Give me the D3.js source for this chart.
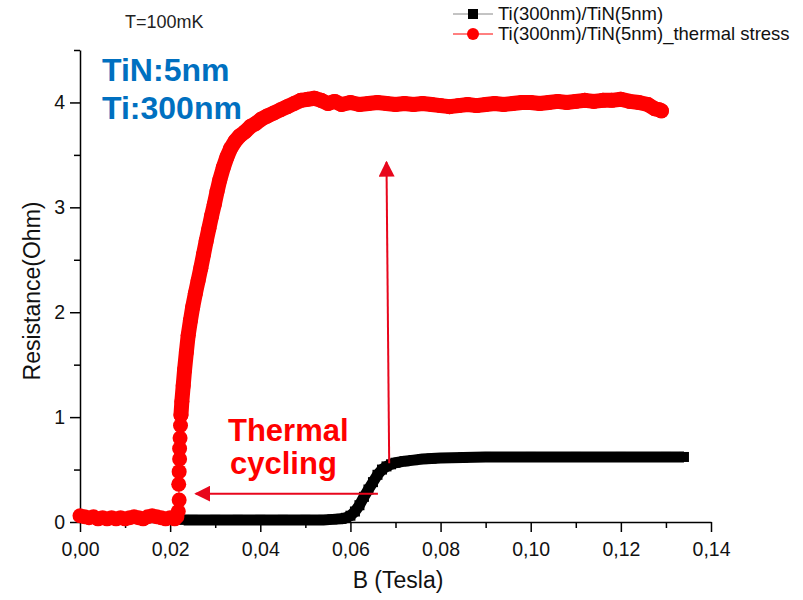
<!DOCTYPE html>
<html>
<head>
<meta charset="utf-8">
<script src="https://cdn.jsdelivr.net/npm/d3@7"></script>
<style>
body{margin:0;background:#fff;}
svg{font-family:"Liberation Sans",Arial,sans-serif;}
.axis path,.axis line{stroke:#000;stroke-width:1.5;}
.axis text{font-size:19.5px;fill:#111;}
</style>
</head>
<body>
<svg id="chart" width="803" height="600"></svg>
<script>
var svgWidth=803;
var svgHeight=600;

// B (Tesla), R (Ohm)
var redB=[0.000,0.001,0.002,0.003,0.004,0.005,0.006,0.007,0.008,0.009,0.010,0.011,0.012,0.013,0.014,0.015,0.016,0.017,0.018,0.019,0.020,0.021,0.0215,
  0.0218,0.0220,0.0219,0.0220,0.0221,0.0221,0.0222,0.0223,0.0224,0.0226,0.0229,0.0232,0.0236,0.0240,0.0245,0.0250,0.0256,0.0262,0.0268,0.0274,0.0280,0.0286,0.0292,0.0298,0.0304,0.0310,0.0318,0.0326,0.0334,0.0344,0.0354,0.0366,0.0378,0.0390,0.0402,0.0415,0.0430,0.0445,0.0460,0.0475,0.0490,0.0505,0.0520,0.0535,0.0550,0.0565,0.0580,
  0.0600,0.0620,0.0640,0.0660,0.0680,0.0700,0.0720,0.0740,0.0760,0.0780,0.0800,0.0820,0.0840,0.0860,0.0880,0.0900,0.0920,0.0940,0.0960,0.0980,0.1000,0.1020,0.1040,0.1060,0.1080,0.1100,0.1120,0.1140,0.1160,0.1180,0.1200,0.1220,0.1240,0.1260,0.1275,0.1285,0.1290];
var redR=[0.06,0.05,0.04,0.05,0.03,0.04,0.03,0.04,0.03,0.04,0.03,0.04,0.05,0.04,0.03,0.05,0.06,0.05,0.04,0.03,0.04,0.03,0.05,
  0.10,0.21,0.36,0.48,0.60,0.70,0.80,0.92,1.02,1.15,1.30,1.45,1.62,1.78,1.92,2.05,2.18,2.30,2.42,2.55,2.68,2.80,2.92,3.03,3.15,3.26,3.38,3.48,3.56,3.63,3.68,3.72,3.77,3.80,3.84,3.87,3.90,3.93,3.96,3.99,4.02,4.03,4.04,4.02,3.99,4.01,3.98,
  4.00,3.98,3.99,4.00,3.99,3.98,3.99,3.98,3.99,3.98,3.97,3.96,3.97,3.98,3.97,3.98,3.99,3.98,3.99,4.00,4.00,3.99,4.00,4.01,4.00,4.01,4.02,4.01,4.02,4.02,4.03,4.01,4.00,3.98,3.94,3.93,3.92];

var blackB=[0.023,0.025,0.030,0.035,0.040,0.045,0.050,0.054,0.056,0.058,0.059,0.060,0.061,0.062,0.063,0.064,0.065,0.066,0.067,0.068,0.069,0.070,0.072,0.074,0.076,0.078,0.080,0.085,0.090,0.100,0.110,0.120,0.130,0.134];
var blackR=[0.02,0.02,0.02,0.02,0.02,0.02,0.02,0.02,0.025,0.03,0.04,0.06,0.10,0.16,0.24,0.31,0.38,0.45,0.50,0.53,0.55,0.565,0.58,0.59,0.60,0.605,0.61,0.615,0.62,0.62,0.62,0.62,0.62,0.62];

var xTicks=[0,0.02,0.04,0.06,0.08,0.10,0.12,0.14];
var xMinor=[0.01,0.03,0.05,0.07,0.09,0.11,0.13];
var yTicks=[0,1,2,3,4];
var yMinor=[0.5,1.5,2.5,3.5,4.5];

var seriesNames=["Ti(300nm)/TiN(5nm)","Ti(300nm)/TiN(5nm)_thermal stress"];
// arrows: [B start, R start, B end, R end]
var arrowDown=[0.0661,0.27,0.0257,0.27];
var arrowUp=[0.0686,0.56,0.0680,3.43];

var svg=d3.select("#chart");

var xScale=d3.scaleLinear().domain([0,0.14]).range([80,711]);
var yScale=d3.scaleLinear().domain([0,4.5]).range([522,50]);

var fmt=function(d){return d3.format(".2f")(d).replace(".",",");};

// minor ticks
svg.append("g").attr("class","axis")
  .attr("transform","translate(0,522)")
  .call(d3.axisBottom(xScale).tickValues(xMinor).tickSize(6).tickFormat(""))
  .select(".domain").remove();
svg.append("g").attr("class","axis")
  .attr("transform","translate(80,0)")
  .call(d3.axisLeft(yScale).tickValues(yMinor).tickSize(6).tickFormat(""))
  .select(".domain").remove();

var xAxis=svg.append("g").attr("class","axis")
  .attr("transform","translate(0,522)")
  .call(d3.axisBottom(xScale).tickValues(xTicks).tickSize(10).tickSizeOuter(0).tickPadding(10).tickFormat(fmt));
var yAxis=svg.append("g").attr("class","axis")
  .attr("transform","translate(80,0)")
  .call(d3.axisLeft(yScale).tickValues(yTicks).tickSize(10).tickSizeOuter(0).tickPadding(5).tickFormat(d3.format("d")));
yAxis.selectAll("text").attr("font-size",20);

// axis titles
svg.append("text").attr("x",398).attr("y",588).attr("text-anchor","middle")
  .attr("font-size",23).attr("fill","#111").text("B (Tesla)");
svg.append("text").attr("transform","translate(40,291) rotate(-90)").attr("text-anchor","middle")
  .attr("font-size",23).attr("fill","#111").text("Resistance(Ohm)");

var line=d3.line().x(function(d){return xScale(d[0]);}).y(function(d){return yScale(d[1]);});

// black series
var blackData=blackB.map(function(d,i){return [d,blackR[i]];});
svg.append("path").datum(blackData).attr("d",line)
  .attr("fill","none").attr("stroke","#000").attr("stroke-width",11).attr("stroke-linejoin","round");
svg.selectAll(".sq").data(blackData).enter().append("rect")
  .attr("class","sq").attr("width",10).attr("height",10)
  .attr("x",function(d){return xScale(d[0])-5;})
  .attr("y",function(d){return yScale(d[1])-5;})
  .attr("fill","#000");

// red series: dense parts look like a solid band, the jump at 0.022 shows single dots
var redData=redB.map(function(d,i){return [d,redR[i]];});
var redLow=redData.filter(function(d){return d[0]<=0.0215;});
var redHigh=redData.filter(function(d){return d[0]>=0.0224;});
svg.append("path").datum(redData).attr("d",line)
  .attr("fill","none").attr("stroke","#ff0000").attr("stroke-width",1);
[redLow,redHigh].forEach(function(seg,i){
  svg.append("path").datum(seg).attr("d",line)
    .attr("fill","none").attr("stroke","#ff0000").attr("stroke-width",i==0?12:15)
    .attr("stroke-linejoin","round").attr("stroke-linecap","round");
});
svg.selectAll(".dot").data(redData).enter().append("circle")
  .attr("class","dot").attr("r",7.5)
  .attr("cx",function(d){return xScale(d[0]);})
  .attr("cy",function(d){return yScale(d[1]);})
  .attr("fill","#ff0000");

// arrows
var arrowColor="#e8061c";
var defs=svg.append("defs");
defs.append("marker").attr("id","head").attr("viewBox","0 0 10 10")
  .attr("refX",9).attr("refY",5).attr("markerWidth",16).attr("markerHeight",16)
  .attr("markerUnits","userSpaceOnUse").attr("orient","auto")
  .append("path").attr("d","M0,0L10,5L0,10Z").attr("fill",arrowColor);
[arrowDown,arrowUp].forEach(function(a){
  svg.append("line")
    .attr("x1",xScale(a[0])).attr("y1",yScale(a[1]))
    .attr("x2",xScale(a[2])).attr("y2",yScale(a[3]))
    .attr("stroke",arrowColor).attr("stroke-width",2)
    .attr("marker-end","url(#head)");
});

// annotations
svg.append("text").attr("x",125).attr("y",28).attr("font-size",18).attr("fill","#222").text("T=100mK");
svg.append("text").attr("x",102).attr("y",81).attr("font-size",32).attr("font-weight","bold").attr("fill","#0070c0").text("TiN:5nm");
svg.append("text").attr("x",102).attr("y",119).attr("font-size",32).attr("font-weight","bold").attr("fill","#0070c0").text("Ti:300nm");
svg.append("text").attr("x",228).attr("y",441).attr("font-size",31).attr("font-weight","bold").attr("fill","#ff0000").text("Thermal");
svg.append("text").attr("x",230).attr("y",474).attr("font-size",31).attr("font-weight","bold").attr("fill","#ff0000").text("cycling");

// legend
var legend=svg.append("g");
seriesNames.forEach(function(name,i){
  var y=14+i*20;
  legend.append("line").attr("x1",453).attr("x2",493).attr("y1",y).attr("y2",y)
    .attr("stroke",i==0?"#888":"#ff0000").attr("stroke-width",1);
  if(i==0){
    legend.append("rect").attr("x",468).attr("y",y-5).attr("width",10).attr("height",10).attr("fill","#000");
  }else{
    legend.append("circle").attr("cx",473).attr("cy",y).attr("r",6).attr("fill","#ff0000");
  }
  legend.append("text").attr("x",498).attr("y",y+6).attr("font-size",18.5).attr("fill","#111").text(name);
});
</script>
</body>
</html>
